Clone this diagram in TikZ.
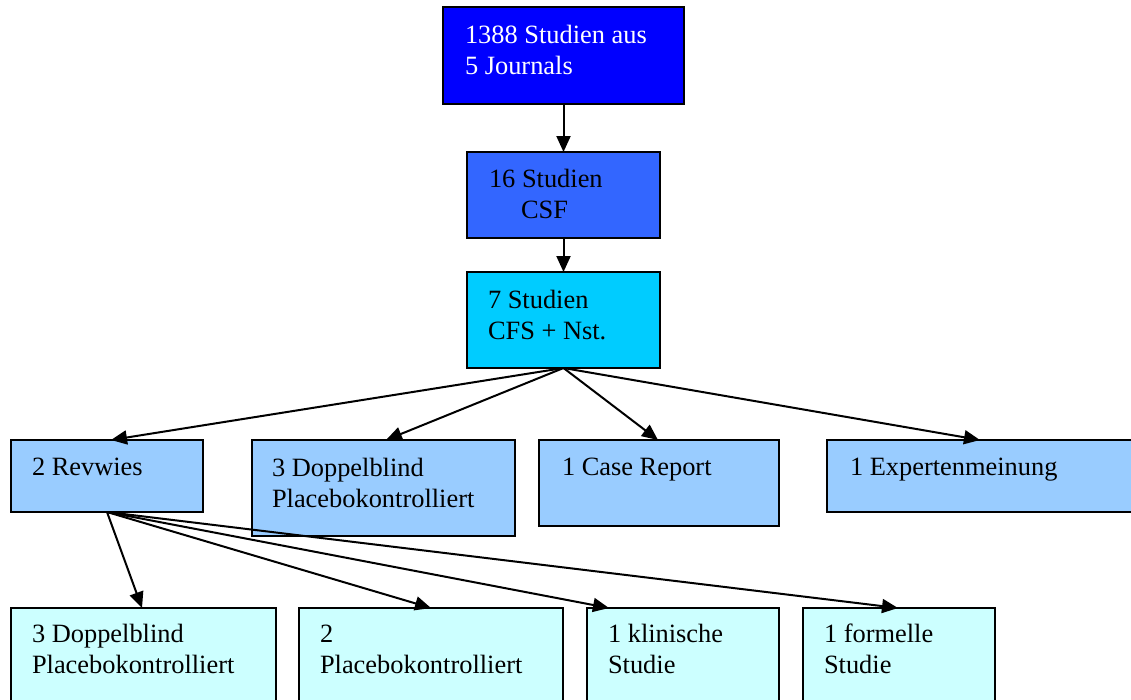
\documentclass[tikz,border=0pt]{standalone}
\usepackage{fontspec}
\setmainfont{Liberation Serif}
\usetikzlibrary{arrows.meta}
\definecolor{cA}{HTML}{0000FF}
\definecolor{cB}{HTML}{3366FF}
\definecolor{cC}{HTML}{00CCFF}
\definecolor{cD}{HTML}{99CCFF}
\definecolor{cE}{HTML}{CCFFFF}
\begin{document}
\begin{tikzpicture}[x=1pt,y=-1pt,
  box/.style={draw=black, line width=2.1pt, inner sep=0pt, outer sep=0pt, anchor=north west},
  lbl/.style={anchor=base west, inner sep=0pt, outer sep=0pt, align=left, font=\fontsize{26.4}{31}\selectfont},
  arr/.style={line width=2pt, -{Triangle[length=16pt,width=14pt]}}]
\useasboundingbox (0,0) rectangle (1131,699);
% boxes
\node[box, fill=cA, minimum width=241pt, minimum height=97pt] (b1) at (443,7) {};
\node[box, fill=cB, minimum width=193pt, minimum height=86pt] (b2) at (467,152) {};
\node[box, fill=cC, minimum width=193pt, minimum height=96pt] (b3) at (467,272) {};
\node[box, fill=cD, minimum width=192pt, minimum height=72pt] (r1) at (11,440) {};
\node[box, fill=cD, minimum width=263pt, minimum height=96pt] (r2) at (252,440) {};
\node[box, fill=cD, minimum width=240pt, minimum height=86pt] (r3) at (539,440) {};
\node[box, fill=cD, minimum width=310pt, minimum height=72pt] (r4) at (827,440) {};
\node[box, fill=cE, minimum width=265pt, minimum height=100pt] (s1) at (11,608) {};
\node[box, fill=cE, minimum width=264pt, minimum height=100pt] (s2) at (299,608) {};
\node[box, fill=cE, minimum width=192pt, minimum height=100pt] (s3) at (587,608) {};
\node[box, fill=cE, minimum width=192pt, minimum height=100pt] (s4) at (803,608) {};
% labels (base anchor = baseline of the last line)
\node[lbl, text=white] (t1) at ([xshift=22pt,yshift=-67pt]b1.north west) {1388 Studien aus\\5 Journals};
\node[lbl] (t2) at ([xshift=22pt,yshift=-66pt]b2.north west) {16 Studien\\\hspace*{32pt}CSF};
\node[lbl] (t3) at ([xshift=21pt,yshift=-67pt]b3.north west) {7 Studien\\CFS + Nst.};
\node[lbl] (u1) at ([xshift=21pt,yshift=-35pt]r1.north west) {2 Revwies};
\node[lbl] (u2) at ([xshift=20pt,yshift=-67pt]r2.north west) {3 Doppelblind\\Placebokontrolliert};
\node[lbl] (u3) at ([xshift=23pt,yshift=-35pt]r3.north west) {1 Case Report};
\node[lbl] (u4) at ([xshift=23pt,yshift=-35pt]r4.north west) {1 Expertenmeinung};
\node[lbl] (v1) at ([xshift=21pt,yshift=-65pt]s1.north west) {3 Doppelblind\\Placebokontrolliert};
\node[lbl] (v2) at ([xshift=21pt,yshift=-65pt]s2.north west) {2\\Placebokontrolliert};
\node[lbl] (v3) at ([xshift=21pt,yshift=-65pt]s3.north west) {1 klinische\\Studie};
\node[lbl] (v4) at ([xshift=21pt,yshift=-65pt]s4.north west) {1 formelle\\Studie};
% arrow end points
\coordinate (e1) at ([xshift=100pt]r1.north west);
\coordinate (e2) at ([xshift=134pt]r2.north west);
\coordinate (e3) at ([xshift=119pt]r3.north west);
\coordinate (e4) at ([xshift=153pt]r4.north west);
\coordinate (f1) at ([xshift=131pt]s1.north west);
\coordinate (f2) at ([xshift=132pt]s2.north west);
\coordinate (f3) at ([xshift=22pt]s3.north west);
\coordinate (f4) at ([xshift=95pt]s4.north west);
% connectors
\draw[arr] (b1.south) -- (b2.north);
\draw[arr] (b2.south) -- (b3.north);
\draw[arr] (b3.south) -- (e1);
\draw[arr] (b3.south) -- (e2);
\draw[arr] (b3.south) -- (e3);
\draw[arr] (b3.south) -- (e4);
\draw[arr] (r1.south) -- (f1);
\draw[arr] (r1.south) -- (f2);
\draw[arr] (r1.south) -- (f3);
\draw[arr] (r1.south) -- (f4);
\end{tikzpicture}
\end{document}
